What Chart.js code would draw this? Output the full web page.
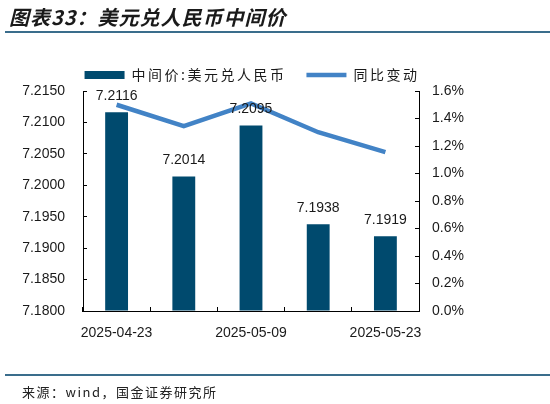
<!DOCTYPE html>
<html>
<head>
<meta charset="utf-8">
<script src="https://cdn.jsdelivr.net/npm/chart.js@4.4.1/dist/chart.umd.min.js"></script>
<style>
  html, body { margin: 0; padding: 0; background: #fff; }
  #wrap { position: relative; width: 550px; height: 404px; overflow: hidden; }
  #c { position: absolute; left: 0; top: 0; }
  #title { position: absolute; left: 9px; top: 5px; font: italic bold 20px "Noto Sans CJK SC", sans-serif; letter-spacing: 1px; color: #1a1a1a; line-height: 24px; white-space: nowrap; }
  .rule { position: absolute; left: 5px; width: 545px; height: 2px; background: #3a6d8c; }
  #src { position: absolute; left: 22px; top: 383px; font: 13px "Noto Sans CJK SC", sans-serif; letter-spacing: 1.5px; color: #222; line-height: 18px; white-space: nowrap; }
</style>
</head>
<body>
<div id="wrap">
  <canvas id="c" width="550" height="404"></canvas>
  <div id="title">图表33：美元兑人民币中间价</div>
  <div class="rule" style="top:31px"></div>
  <div class="rule" style="top:374px"></div>
  <div id="src">来源：wind，国金证券研究所</div>
</div>
<script>
const categories = ['2025-04-23', '2025-04-30', '2025-05-09', '2025-05-16', '2025-05-23'];
const shownLabels = ['2025-04-23', '2025-05-09', '2025-05-23'];
const midRate = [7.2116, 7.2014, 7.2095, 7.1938, 7.1919];
const yoyChange = [1.50, 1.345, 1.51, 1.30, 1.155];
const seriesNames = ['中间价:美元兑人民币', '同比变动'];
const leftTicks = { min: 7.18, max: 7.215, step: 0.005 };
const rightTicks = { min: 0, max: 1.6, step: 0.2 };

const BAR = '#004a6e';
const LINE = '#4283c6';
const LS = '2.5px';

const legendSpacing = {
  id: 'legendSpacing',
  beforeLayout(chart) {
    const lg = chart.legend;
    if (!lg || lg._wrapped) return;
    lg._wrapped = true;
    const of = lg.fit, od = lg.draw;
    lg.fit = function () { const c = this.ctx; const p = c.letterSpacing; c.letterSpacing = LS; of.apply(this, arguments); c.letterSpacing = p || '0px'; };
    lg.draw = function () { const c = this.ctx; const p = c.letterSpacing; c.letterSpacing = LS; od.apply(this, arguments); c.letterSpacing = p || '0px'; };
  }
};

const barLabels = {
  id: 'barLabels',
  afterDatasetsDraw(chart) {
    const ctx = chart.ctx;
    const idx = chart.data.datasets.findIndex(d => d.type === 'bar');
    const meta = chart.getDatasetMeta(idx);
    ctx.save();
    ctx.font = '14px "Liberation Sans", Arial, sans-serif';
    ctx.fillStyle = '#1a1a1a';
    ctx.textAlign = 'center';
    ctx.textBaseline = 'middle';
    meta.data.forEach((el, i) => {
      ctx.fillText(midRate[i].toFixed(4), el.x, el.y - 16);
    });
    ctx.restore();
  }
};

new Chart(document.getElementById('c'), {
  data: {
    labels: categories,
    datasets: [
      {
        type: 'line', label: seriesNames[1], data: yoyChange, yAxisID: 'y2',
        borderColor: LINE, backgroundColor: LINE, borderWidth: 4.5, pointRadius: 0,
        tension: 0, order: 1, pointStyle: 'line', borderCapStyle: 'butt'
      },
      {
        type: 'bar', label: seriesNames[0], data: midRate, yAxisID: 'y', base: leftTicks.min,
        backgroundColor: BAR, borderWidth: 0, categoryPercentage: 1, barPercentage: 0.34,
        order: 2, pointStyle: 'rect'
      }
    ]
  },
  options: {
    responsive: false,
    animation: false,
    devicePixelRatio: 1,
    layout: { padding: { top: 48, left: 0, right: 46, bottom: 58 } },
    plugins: {
      tooltip: { enabled: false },
      legend: {
        display: true, position: 'top', maxHeight: 43,
        reverse: true,
        labels: {
          usePointStyle: true, pointStyleWidth: 40, boxHeight: 8, padding: 20,
          color: '#1a1a1a',
          font: { family: '"Noto Sans CJK SC", sans-serif', size: 14 }
        }
      }
    },
    scales: {
      x: {
        type: 'category', offset: true,
        grid: { display: true, drawOnChartArea: false, drawTicks: true, tickLength: -4, offset: true, color: '#000', lineWidth: 1 },
        border: { display: true, color: '#000', width: 1 },
        ticks: {
          autoSkip: false, maxRotation: 0, minRotation: 0, padding: 18, color: '#1a1a1a',
          font: { family: '"Liberation Sans", Arial, sans-serif', size: 14 },
          callback: function (v, i) { const l = categories[i]; return shownLabels.includes(l) ? l : ''; }
        },
        afterFit(s) { s.height = 35; }
      },
      y: {
        position: 'left', min: leftTicks.min, max: leftTicks.max,
        grid: { display: true, drawOnChartArea: false, drawTicks: true, tickLength: -4, color: '#000' },
        border: { display: true, color: '#000', width: 1 },
        ticks: {
          stepSize: leftTicks.step, padding: 22, color: '#1a1a1a',
          font: { family: '"Liberation Sans", Arial, sans-serif', size: 14 },
          callback: v => Number(v).toFixed(4)
        },
        afterFit(s) { s.width = 83; }
      },
      y2: {
        position: 'right', min: rightTicks.min, max: rightTicks.max,
        grid: { display: true, drawOnChartArea: false, drawTicks: true, tickLength: -4, color: '#000' },
        border: { display: true, color: '#000', width: 1 },
        ticks: {
          stepSize: rightTicks.step, padding: 17, color: '#1a1a1a',
          font: { family: '"Liberation Sans", Arial, sans-serif', size: 14 },
          callback: v => Number(v).toFixed(1) + '%'
        },
        afterFit(s) { s.width = 85; }
      }
    }
  },
  plugins: [legendSpacing, barLabels]
});
</script>
</body>
</html>
